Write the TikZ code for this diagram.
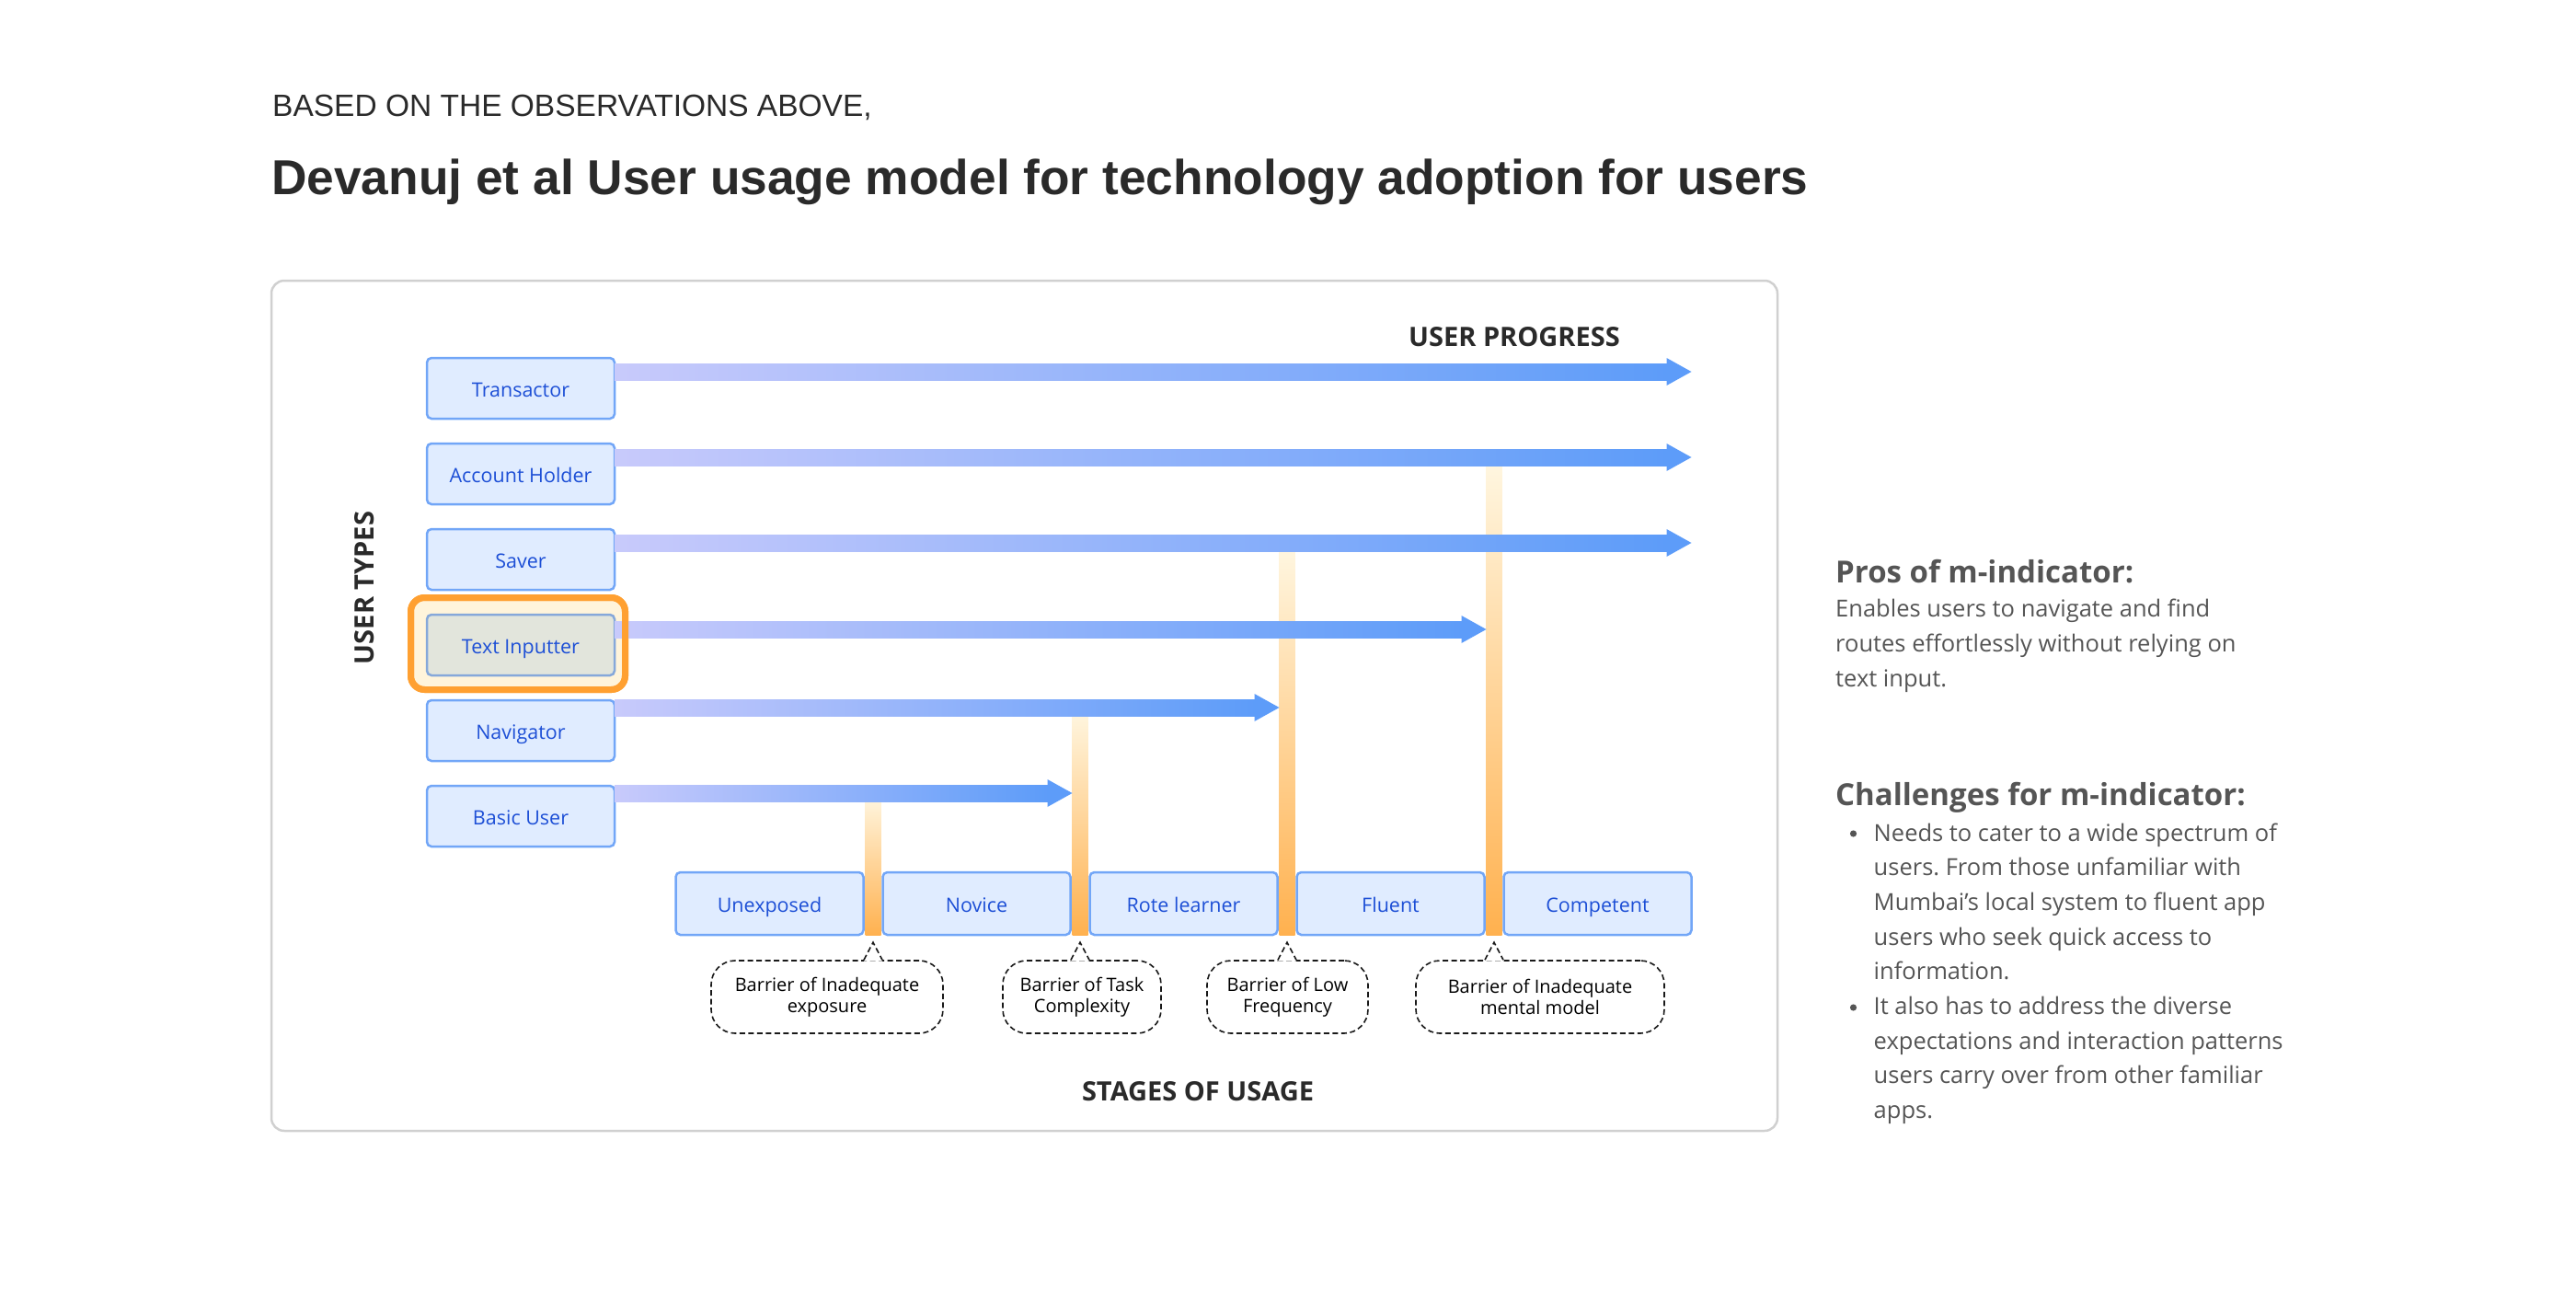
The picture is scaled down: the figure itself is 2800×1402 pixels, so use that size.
\documentclass[tikz,border=0pt]{standalone}
\usepackage{fontspec}
\setmainfont{Open Sans}
\newfontfamily\headfont{Liberation Sans}
\frenchspacing
\usepackage{xcolor}
\definecolor{cBox}{HTML}{E0ECFF}
\definecolor{cEdge}{HTML}{72A6F7}
\definecolor{cLabel}{HTML}{1D4FD6}
\definecolor{cArrowL}{HTML}{C8CAFB}
\definecolor{cArrowR}{HTML}{5D9CF9}
\definecolor{cBarTop}{HTML}{FFF7E2}
\definecolor{cBarBot}{HTML}{FFB14F}
\definecolor{cHi}{HTML}{FFA031}
\definecolor{cHiFill}{HTML}{FFF4DB}
\definecolor{cMuted}{HTML}{E2E5DC}
\definecolor{cMutedEdge}{HTML}{86A8DA}
\definecolor{cFrame}{HTML}{D0D0D0}
\definecolor{cInk}{HTML}{2A2A2A}
\definecolor{cGray}{HTML}{555555}
\usepackage{tikz}
\usetikzlibrary{positioning,calc,backgrounds}
\tikzset{
  head-kicker/.style={anchor=base west,inner sep=0pt,text=cInk,
    font=\headfont\fontsize{33.5}{38}\selectfont},
  head-title/.style={anchor=base west,inner sep=0pt,text=cInk,
    font=\headfont\bfseries\fontsize{53.3}{60}\selectfont},
  frame-box/.style={draw=cFrame,line width=2.5pt,rounded corners=14pt},
  type-box/.style={draw=cEdge,line width=2.5pt,fill=cBox,rounded corners=5pt,
    minimum width=204pt,minimum height=66pt,inner sep=0pt,outer sep=0pt,
    text height=20pt,text depth=2pt,
    text=cLabel,font=\fontsize{21.5}{24}\selectfont},
  stage-box/.style={type-box,minimum height=68pt},
  muted-box/.style={fill=cMuted,draw=cMutedEdge},
  hilite/.style={draw=cHi,line width=7pt,fill=cHiFill,rounded corners=15pt},
  barrier/.style={top color=cBarTop,bottom color=cBarBot},
  progress-bar/.style={left color=cArrowL,right color=cArrowR},
  progress-head/.style={fill=cArrowR},
  barrier-note/.style={draw=black!90,line width=1.6pt,dash pattern=on 6pt off 3.5pt,
    rounded corners=26pt,align=center,minimum height=79pt,inner sep=0pt,
    font=\fontsize{20}{23.5}\selectfont,text=black},
  note-tip/.style={draw=black!90,line width=1.6pt,dash pattern=on 6pt off 3.5pt},
  axis-label/.style={inner sep=0pt,text=cInk,font=\bfseries\fontsize{29}{34}\selectfont},
  side-head/.style={anchor=base west,inner sep=0pt,text=cGray,
    font=\bfseries\fontsize{33}{38}\selectfont},
  side-text/.style={anchor=base west,inner sep=0pt,text=cGray,
    font=\fontsize{25.5}{30}\selectfont},
}

\begin{document}
\begin{tikzpicture}[x=1pt,y=-1pt,node distance=27pt and 21pt]
  \useasboundingbox (0,0) rectangle (2800,1402);

  \node[head-kicker] (kicker) at (296,127) {BASED ON THE OBSERVATIONS ABOVE,};
  \node[head-title]  (title)  at (295,211) {Devanuj et al User usage model for technology adoption for users};
  \draw[frame-box] (295,305) rectangle (1932,1229);

  % user types
  \node[type-box]                          (transactor) at (566,422) {Transactor};
  \node[type-box,below=of transactor]      (accholder) {Account Holder};
  \node[type-box,below=of accholder]       (saver)     {Saver};
  \node[type-box,below=of saver,muted-box] (tinput)    {Text Inputter};
  \node[type-box,below=of tinput]          (navigator) {Navigator};
  \node[type-box,below=of navigator]       (basic)     {Basic User};

  % stages of usage
  \node[stage-box]                   (unexposed) at (836.5,982) {Unexposed};
  \node[stage-box,right=of unexposed] (novice)    {Novice};
  \node[stage-box,right=of novice]    (rote)      {Rote learner};
  \node[stage-box,right=of rote]      (fluent)    {Fluent};
  \node[stage-box,right=of fluent]    (competent) {Competent};

  \coordinate (gap1) at ($(unexposed.east)!.5!(novice.west)$);
  \coordinate (gap2) at ($(novice.east)!.5!(rote.west)$);
  \coordinate (gap3) at ($(rote.east)!.5!(fluent.west)$);
  \coordinate (gap4) at ($(fluent.east)!.5!(competent.west)$);
  \coordinate (tip-far) at (competent.east);
  \coordinate (tip-2) at ($(gap2)+(-8.5,0)$);
  \coordinate (tip-3) at ($(gap3)+(-8.5,0)$);
  \coordinate (tip-4) at ($(gap4)+(-8.5,0)$);

  \coordinate (hl-nw) at ($(tinput.north west)+(-17.5,-18.5)$);
  \coordinate (hl-se) at ($(tinput.south east)+(11.5,15.5)$);
  \begin{scope}[on background layer]
    \draw[hilite] (hl-nw) rectangle (hl-se);
  \end{scope}

  % barriers
  \foreach \g/\r/\dy in {gap1/basic/25,gap2/navigator/25,gap3/saver/18,gap4/accholder/18}
    \shade[barrier] ($(\g |- \r.east)+(-8.5,-\dy)$) rectangle ($(\g |- unexposed.south)+(8.5,0)$);

  % user progress
  \foreach \n/\t/\dy in {transactor/tip-far/18,accholder/tip-far/18,saver/tip-far/18,
      tinput/tip-4/17,navigator/tip-3/25,basic/tip-2/25}{
    \coordinate (\n-s) at ($(\n.east)+(0,-\dy)$);
    \coordinate (\n-e) at (\n-s -| \t);
    \shade[progress-bar] ($(\n-s)+(0,-9)$) rectangle ($(\n-e)+(-26,9)$);
    \fill[progress-head] ($(\n-e)+(-27,-15)$) -- (\n-e) -- ($(\n-e)+(-27,15)$) -- cycle;
  }
  \draw[hilite,fill=none] (hl-nw) rectangle (hl-se);

  \node[barrier-note,minimum width=252pt] (note1) at (899,1083.5)   {Barrier of Inadequate\\exposure};
  \node[barrier-note,minimum width=172pt] (note2) at (1176,1083.5)  {Barrier of Task\\Complexity};
  \node[barrier-note,minimum width=175pt] (note3) at (1399.5,1083.5){Barrier of Low\\Frequency};
  \node[barrier-note,minimum width=270pt] (note4) at (1674,1083.5)  {Barrier of Inadequate\\mental model};
  \foreach \k in {1,...,4}{
    \coordinate (tip\k) at ($(gap\k |- note\k.north)+(0,-19)$);
    \fill[white] ($(gap\k |- note\k.north)+(-10,1.3)$) -- (tip\k) -- ($(gap\k |- note\k.north)+(10,1.3)$) -- cycle;
    \draw[note-tip] ($(gap\k |- note\k.north)+(-10,0)$) -- (tip\k) -- ($(gap\k |- note\k.north)+(10,0)$);
  }

  \node[axis-label]          (progress) at (1646,366) {USER PROGRESS};
  \node[axis-label,rotate=90] (types)   at (396,639)  {USER TYPES};
  \node[axis-label]          (stages)   at (1302,1186) {STAGES OF USAGE};

  % side notes
  \node[side-head] (pros) at (1995,633) {Pros of m-indicator:};
  \foreach \t [count=\i from 0] in {Enables users to navigate and find,
      routes effortlessly without relying on,text input.}
    \node[side-text] (pros-\i) at (1995,{670+38*\i}) {\t};
  \node[side-head] (chal) at (1995,875) {Challenges for m-indicator:};
  \foreach \t [count=\i from 0] in {Needs to cater to a wide spectrum of,
      users. From those unfamiliar with,Mumbai’s local system to fluent app,
      users who seek quick access to,information.,It also has to address the diverse,
      expectations and interaction patterns,users carry over from other familiar,apps.}
    \node[side-text] (chal-\i) at (2036.5,{914+37.7*\i}) {\t};
  \fill[cGray] (2014.5,906) circle (3.6);
  \fill[cGray] (2014.5,1095) circle (3.6);
\end{tikzpicture}
\end{document}
